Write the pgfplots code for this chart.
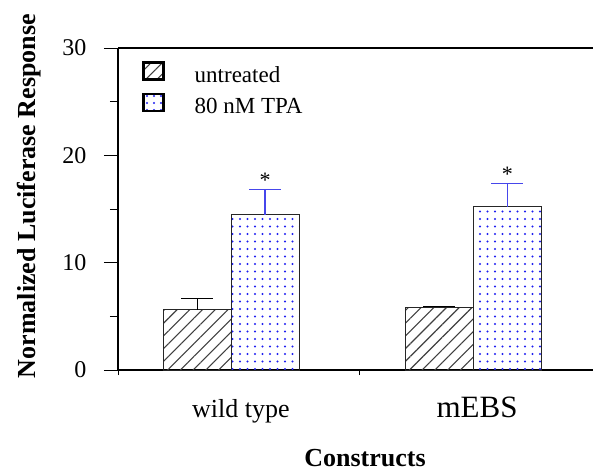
\documentclass[border=0pt]{standalone}
\usepackage{fontspec}
\setmainfont{Liberation Serif}
\usepackage{pgfplots}
\pgfplotsset{compat=1.18}
\usetikzlibrary{patterns.meta}
\definecolor{dotblue}{RGB}{30,30,240}
\definecolor{errblue}{RGB}{70,70,235}
\begin{document}
\begin{tikzpicture}
\useasboundingbox (0,0) rectangle (593pt,474pt);
\begin{axis}[
  at={(118pt,104pt)}, anchor=south west, scale only axis,
  width=475pt, height=322pt,
  xmin=0.533, xmax=2.496, ymin=0, ymax=30,
  axis x line=box, axis y line=left,
  axis line style={-, black, line width=1.2pt},
  ytick={0,10,20,30}, minor ytick={5,15,25},
  tick align=outside, major tick length=14pt, minor tick length=8pt,
  ytick pos=left, xtick pos=left,
  xtick={0.533,1.533}, xticklabels={},
  xtick style={/pgfplots/major tick length=5pt},
  tick style={black, line width=1pt},
  /pgf/number format/assume math mode=true,
  yticklabel style={font=\fontsize{24}{24}\selectfont, xshift=-14pt},
  ylabel={Normalized Luciferase Response},
  ylabel style={font=\bfseries\fontsize{26}{26}\selectfont, at={(axis description cs:-0.187,0.54)}, anchor=center},
  xlabel={Constructs},
  xlabel style={font=\bfseries\fontsize{26}{26}\selectfont, at={(axis description cs:0.52,-0.273)}, anchor=center},
  clip=false,
  legend image code/.code={\draw[#1, line width=2.8pt, draw=black] (0pt,-4pt) rectangle (20pt,13pt);},
  legend style={at={(axis description cs:0.0436,0.967)}, anchor=north west, draw=none, fill=none,
    font=\fontsize{23}{23}\selectfont, row sep=8.7pt, column sep=30pt, nodes={inner sep=0pt}},
  legend cell align=left,
]
\addlegendimage{pattern={Lines[angle=45,distance=8pt,line width=1.1pt]}, pattern color=black!75}
\addlegendentry{untreated}
\addlegendimage{pattern={Dots[radius=1.1pt,distance=7pt]}, pattern color=dotblue}
\addlegendentry{80 nM TPA}

\addplot[ybar, bar width=0.281, bar shift=0pt, draw=black!85, line width=0.9pt,
  pattern={Lines[angle=45,distance=9pt,line width=1.1pt]}, pattern color=black!75,
  error bars/.cd, y dir=plus, y explicit,
  error bar style={black, line width=1pt},
  error mark options={rotate=90, mark size=16pt, line width=1pt, black}]
  coordinates {(0.8595,5.6) +- (0,1.1) (1.8616,5.84) +- (0,0.1)};

\addplot[ybar, bar width=0.281, bar shift=0pt, draw=black!85, line width=0.9pt,
  pattern={Dots[radius=1.1pt,distance=7.5pt]}, pattern color=dotblue,
  error bars/.cd, y dir=plus, y explicit,
  error bar style={errblue, line width=1.6pt},
  error mark options={rotate=90, mark size=16pt, line width=1.6pt, errblue}]
  coordinates {(1.1405,14.45) +- (0,2.35) (2.1426,15.2) +- (0,2.16)};

\node[font=\fontsize{22}{22}\selectfont] at (axis cs:1.1405,17.7) {*};
\node[font=\fontsize{22}{22}\selectfont] at (axis cs:2.1426,18.26) {*};
\node[anchor=base, font=\fontsize{26}{26}\selectfont] at (axis cs:1.041,-4.38) {wild type};
\node[anchor=base, font=\fontsize{31}{31}\selectfont] at (axis cs:2.017,-4.38) {mEBS};
\end{axis}
\end{tikzpicture}
\end{document}
